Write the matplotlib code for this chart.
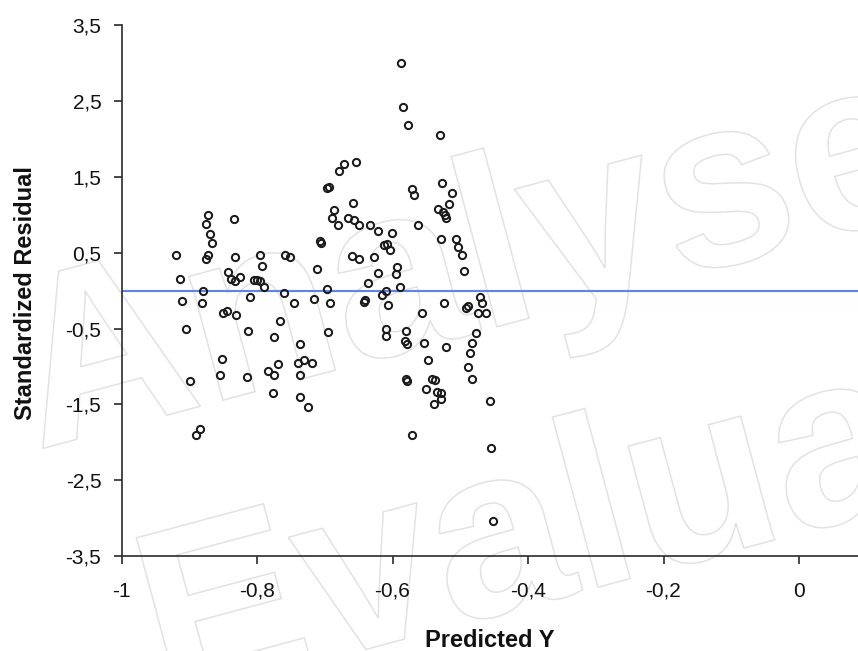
import matplotlib
matplotlib.use("Agg")
import matplotlib.pyplot as plt
from matplotlib.textpath import TextPath
from matplotlib.patches import PathPatch
from matplotlib.font_manager import FontProperties
from matplotlib.transforms import Affine2D

# predicted Y / standardized residual pairs
predicted = [
    -0.920, -0.914, -0.911, -0.905, -0.899, -0.890, -0.884, -0.880, -0.881, -0.873,
    -0.875, -0.869, -0.867, -0.872, -0.875, -0.855, -0.852, -0.850, -0.844, -0.843,
    -0.838, -0.834, -0.832, -0.832, -0.831, -0.825, -0.815, -0.814, -0.810, -0.804,
    -0.800, -0.796, -0.796, -0.792, -0.790, -0.784, -0.775, -0.775, -0.777, -0.769,
    -0.766, -0.760, -0.759, -0.752, -0.746, -0.740, -0.731, -0.719, -0.737, -0.736,
    -0.737, -0.724, -0.716, -0.711, -0.707, -0.705, -0.697, -0.694, -0.696, -0.692,
    -0.695, -0.690, -0.687, -0.680, -0.679, -0.672, -0.666, -0.658, -0.657, -0.654,
    -0.660, -0.650, -0.650, -0.642, -0.640, -0.636, -0.633, -0.627, -0.621, -0.622,
    -0.616, -0.610, -0.612, -0.608, -0.604, -0.610, -0.609, -0.606, -0.601, -0.595,
    -0.593, -0.589, -0.588, -0.584, -0.577, -0.582, -0.579, -0.580, -0.580, -0.578,
    -0.571, -0.568, -0.571, -0.562, -0.556, -0.553, -0.551, -0.548, -0.541, -0.538,
    -0.539, -0.534, -0.528, -0.529, -0.533, -0.530, -0.529, -0.527, -0.525, -0.522,
    -0.521, -0.524, -0.521, -0.517, -0.512, -0.507, -0.503, -0.497, -0.495, -0.491,
    -0.488, -0.488, -0.485, -0.483, -0.483, -0.477, -0.471, -0.468, -0.474, -0.462,
    -0.456, -0.454, -0.451,
]
std_resid = [
    0.47, 0.15, -0.14, -0.51, -1.19, -1.90, -1.82, -0.01, -0.16, 1.00,
    0.88, 0.74, 0.63, 0.47, 0.42, -1.11, -0.90, -0.30, -0.27, 0.24,
    0.15, 0.94, 0.44, 0.13, -0.32, 0.18, -1.14, -0.53, -0.08, 0.14,
    0.14, 0.13, 0.47, 0.32, 0.05, -1.06, -1.11, -0.61, -1.35, -0.97,
    -0.40, -0.03, 0.47, 0.44, -0.16, -0.95, -0.92, -0.95, -0.71, -1.11,
    -1.40, -1.53, -0.11, 0.29, 0.65, 0.63, 1.35, 1.36, 0.02, -0.16,
    -0.55, 0.96, 1.06, 0.86, 1.57, 1.67, 0.95, 1.15, 0.93, 1.69,
    0.45, 0.41, 0.86, -0.15, -0.13, 0.10, 0.87, 0.44, 0.79, 0.23,
    -0.06, 0.00, 0.60, 0.61, 0.54, -0.51, -0.60, -0.19, 0.76, 0.22,
    0.31, 0.05, 3.00, 2.42, 2.18, -0.66, -0.70, -0.53, -1.17, -1.19,
    1.34, 1.26, -1.90, 0.86, -0.30, -0.69, -1.30, -0.92, -1.17, -1.18,
    -1.49, -1.34, -1.35, -1.43, 1.07, 2.05, 0.68, 1.42, 1.04, 1.00,
    0.96, -0.17, -0.75, 1.14, 1.29, 0.68, 0.57, 0.47, 0.26, -0.23,
    -0.21, -1.01, -0.82, -0.69, -1.16, -0.56, -0.08, -0.17, -0.30, -0.30,
    -1.45, -2.08, -3.03,
]

y_ticks = [-3.5, -2.5, -1.5, -0.5, 0.5, 1.5, 2.5, 3.5]
y_labels = ["-3,5", "-2,5", "-1,5", "-0,5", "0,5", "1,5", "2,5", "3,5"]
x_ticks = [-1, -0.8, -0.6, -0.4, -0.2, 0]
x_labels = ["-1", "-0,8", "-0,6", "-0,4", "-0,2", "0"]

W, H = 858, 651
sans = ["Liberation Sans", "DejaVu Sans"]

fig = plt.figure(figsize=(W / 100, H / 100), dpi=100)
fig.patch.set_facecolor("white")

# axes box in pixels: left 121.5, top 24.9, bottom 556.2, runs to the right edge
ax = fig.add_axes([121.5 / W, 1 - 556.2 / H, 1 - 121.5 / W, (556.2 - 24.9) / H])
ax.patch.set_visible(False)

# watermark, outlined text behind the plot
wm_font = FontProperties(family="Liberation Sans", weight="bold")
for txt, (px, py) in [("Analyse-it", (37, 450)), ("Evaluation Version", (164, 703.5))]:
    tp = TextPath((0, 0), txt, size=243, prop=wm_font)
    tr = Affine2D().rotate_deg(15).translate(px, H - py)
    fig.add_artist(PathPatch(tp, transform=tr, facecolor="none",
                             edgecolor="#e2e2e2", lw=1.1, zorder=-1))

ax.axhline(0, color="#5a82ff", lw=1.5, zorder=1)
ax.plot(predicted, std_resid, linestyle="none", marker="o", ms=5.2,
        mfc="none", mec="#1a1a1a", mew=1.45, zorder=2)

ax.set_xlim(-1, -1 + (W - 121.5) / 677.5)
ax.set_ylim(-3.5, 3.5)
ax.set_xticks(x_ticks)
ax.set_xticklabels(x_labels, family=sans, fontsize=15)
ax.set_yticks(y_ticks)
ax.set_yticklabels(y_labels, family=sans, fontsize=15)

for side in ["top", "right"]:
    ax.spines[side].set_visible(False)
for side in ["left", "bottom"]:
    ax.spines[side].set_color("#2a2a2a")
    ax.spines[side].set_linewidth(1.2)
ax.tick_params(axis="both", direction="out", length=5.5, width=1.2, colors="#2a2a2a",
               labelcolor="#111111")
ax.tick_params(axis="x", pad=13)
ax.tick_params(axis="y", pad=9)

ax.set_xlabel("Predicted Y", family=sans, fontsize=17, fontweight="bold", color="#111111")
ax.xaxis.set_label_coords(0.5, -0.158)
ax.xaxis.label.set_verticalalignment("center")
ax.set_ylabel("Standardized Residual", family=sans, fontsize=17, fontweight="bold",
              color="#111111")
ax.yaxis.set_label_coords(-0.131, 0.496)
ax.yaxis.label.set_verticalalignment("center")

fig.savefig("out.png", dpi=100)
